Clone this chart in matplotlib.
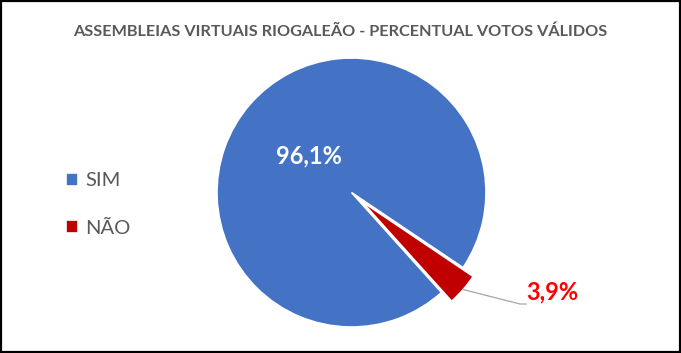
import numpy as np
import matplotlib
matplotlib.use("Agg")
import matplotlib.pyplot as plt
from matplotlib.patches import Rectangle

plt.rcParams['font.family'] = ['Lato', 'DejaVu Sans']

# data
categories = ["SIM", "NÃO"]
values = [96.1, 3.9]
value_labels = ["96,1%", "3,9%"]
colors = ["#4472C4", "#C00000"]
title = "ASSEMBLEIAS VIRTUAIS RIOGALEÃO - PERCENTUAL VOTOS VÁLIDOS"

W, H, dpi = 681, 353, 100
fig = plt.figure(figsize=(W / dpi, H / dpi), dpi=dpi)
ax = fig.add_axes([0, 0, 1, 1])

wedges, _ = ax.pie(values, colors=colors, startangle=-48, counterclock=False,
                   explode=[0, 0.1],
                   wedgeprops=dict(edgecolor="white", linewidth=1.2))

# pixel layout: centre of the pie and radius in px
cx, cy, R = 351.5, 192.5, 134.5
ax.set_xlim(-cx / R, (W - cx) / R)
ax.set_ylim(-(H - cy) / R, cy / R)
ax.set_aspect('auto')
ax.axis('off')

# label inside the big slice
w = wedges[0]
mid = np.deg2rad((w.theta1 + w.theta2) / 2)
ax.text(0.42 * np.cos(mid), 0.42 * np.sin(mid), value_labels[0],
        color="white", fontsize=17, fontweight="bold", ha="center", va="center")

# small exploded slice with leader line
w = wedges[1]
mid = np.deg2rad((w.theta1 + w.theta2) / 2)
ox, oy = w.center[0] + np.cos(mid), w.center[1] + np.sin(mid)
ex, ey = 1.253, -0.829
ax.plot([ox, ex, ex + 0.045], [oy, ey, ey], color="#A6A6A6", lw=0.9)
ax.text(ex + 0.05, ey + 0.005, value_labels[1], color="#FF0000",
        fontsize=17, fontweight="bold", ha="left", va="bottom")

fig.text(0.4993, 1 - 32 / H, title, ha="center", va="center",
         fontsize=11.7, fontweight="bold", color="#595959")

fig.legend(wedges, categories, loc="center left",
           bbox_to_anchor=(66 / W, 1 - 204.5 / H), frameon=False,
           fontsize=14.5, labelcolor="#595959", borderpad=0, borderaxespad=0,
           handlelength=0.6, handleheight=0.6, handletextpad=0.35,
           labelspacing=1.5)

fig.patches.append(Rectangle((0.0015, 0.003), 0.997, 0.994, transform=fig.transFigure,
                             fill=False, edgecolor="black", linewidth=1.6))

fig.savefig("out.png", dpi=dpi)
